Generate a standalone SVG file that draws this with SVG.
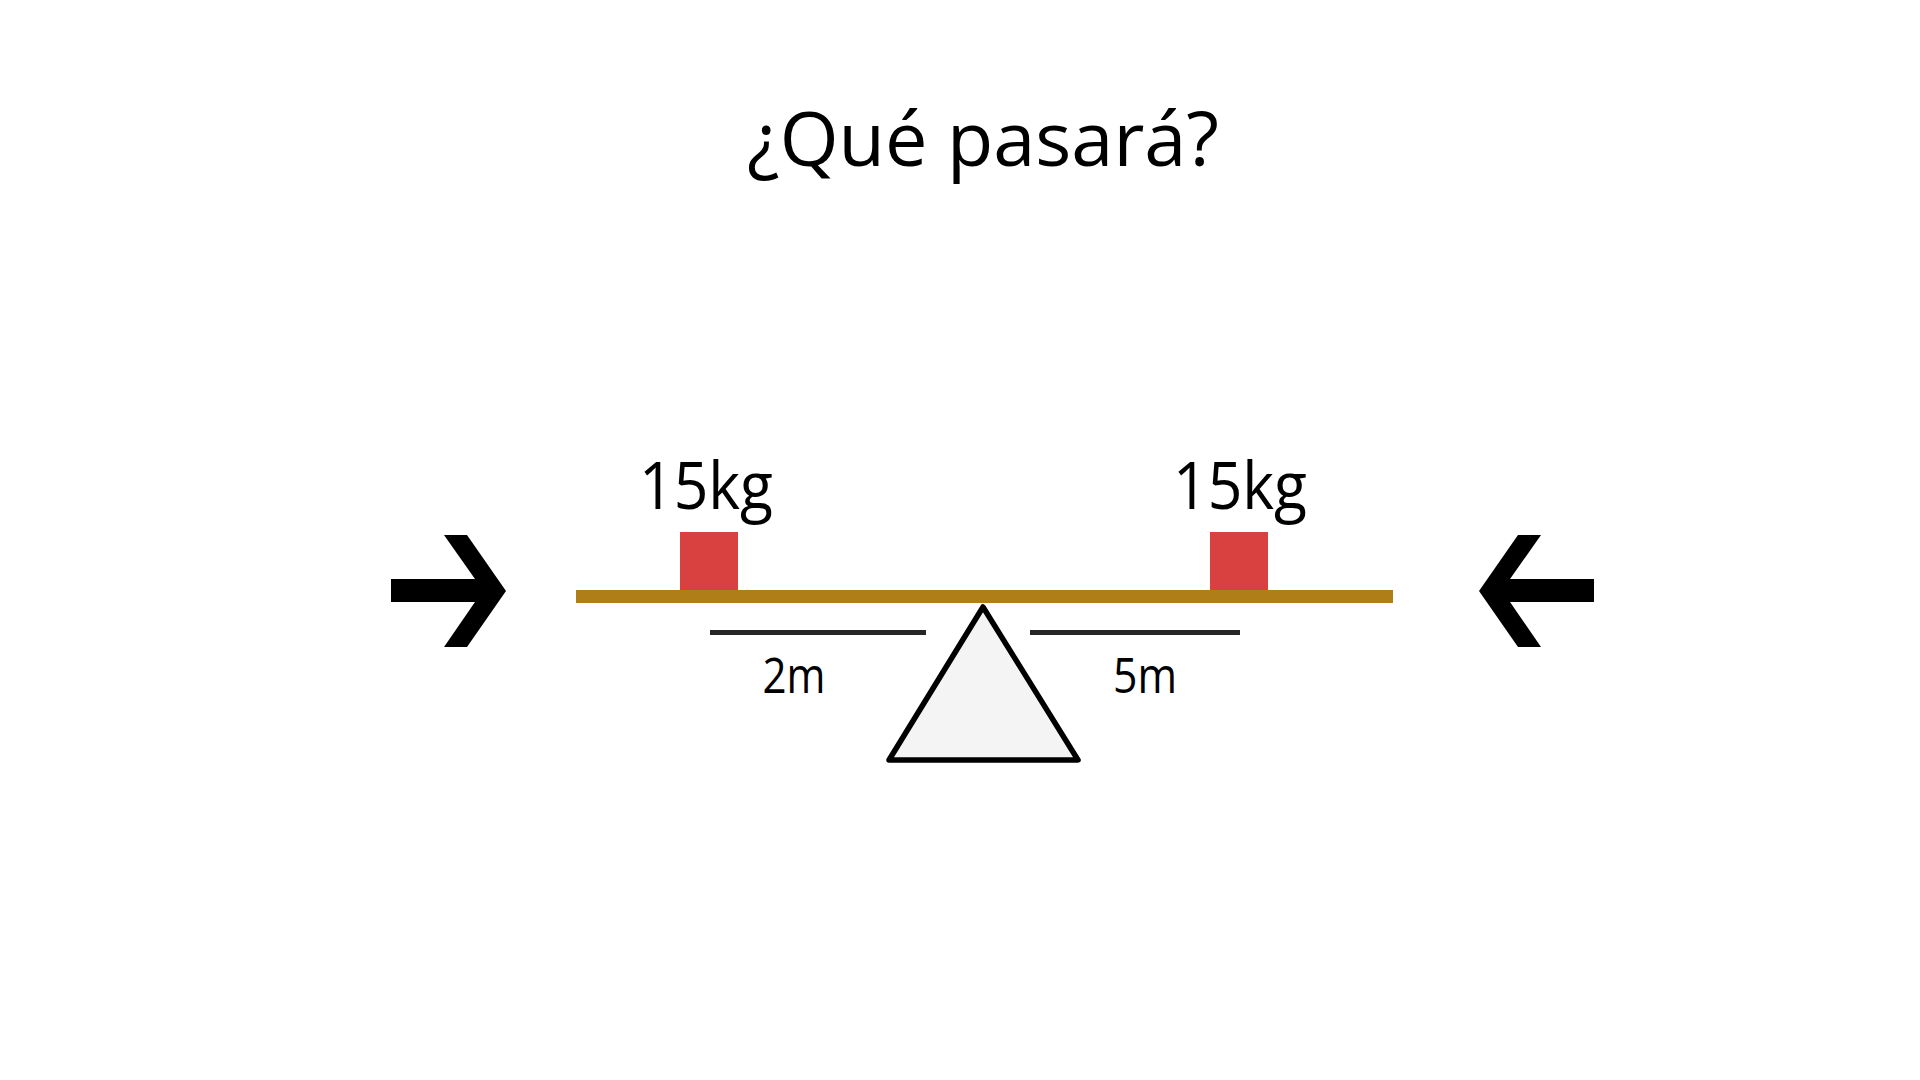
<svg xmlns="http://www.w3.org/2000/svg" width="1920" height="1080" viewBox="0 0 1920 1080">
  <style>
    .t { font-family: "Open Sans", "Liberation Sans", sans-serif; fill: #000; text-anchor: middle; }
    .block { fill: #d94141; }
    .beam { fill: #b07e18; }
    .dim { stroke: #262626; stroke-width: 5; fill: none; }
    .arrow { fill: #000; }
  </style>
  <rect width="1920" height="1080" fill="#ffffff"/>
  <g id="title">
    <text class="t" x="983" y="166" font-size="75" textLength="472" lengthAdjust="spacingAndGlyphs">¿Qué pasará?</text>
  </g>
  <g id="left-push-arrow">
    <polygon class="arrow" points="391,579 475,579 444,535 467,535 506,591 467,647 444,647 475,602 391,602"/>
  </g>
  <g id="right-push-arrow">
    <polygon class="arrow" points="1594,579 1510,579 1541,535 1518,535 1479,591 1518,647 1541,647 1510,602 1594,602"/>
  </g>
  <g id="fulcrum">
    <polygon points="889,760 983,607 1078,760" fill="#f4f4f4" stroke="#000" stroke-width="5.5" stroke-linejoin="round"/>
  </g>
  <g id="beam">
    <rect class="beam" x="576" y="590" width="817" height="13"/>
  </g>
  <g id="left-weight">
    <rect class="block" x="680" y="532" width="58" height="58"/>
    <text class="t" x="706" y="509" font-size="66" textLength="134" lengthAdjust="spacingAndGlyphs">15kg</text>
  </g>
  <g id="right-weight">
    <rect class="block" x="1210" y="532" width="58" height="58"/>
    <text class="t" x="1240" y="509" font-size="66" textLength="134" lengthAdjust="spacingAndGlyphs">15kg</text>
  </g>
  <g id="connectors">
    <line class="dim" x1="710" y1="632.5" x2="926" y2="632.5"/>
    <line class="dim" x1="1030" y1="632.5" x2="1240" y2="632.5"/>
  </g>
  <g id="left-distance">
    <text class="t" x="794" y="693" font-size="50" textLength="63" lengthAdjust="spacingAndGlyphs">2m</text>
  </g>
  <g id="right-distance">
    <text class="t" x="1145" y="693" font-size="50" textLength="64" lengthAdjust="spacingAndGlyphs">5m</text>
  </g>
</svg>
